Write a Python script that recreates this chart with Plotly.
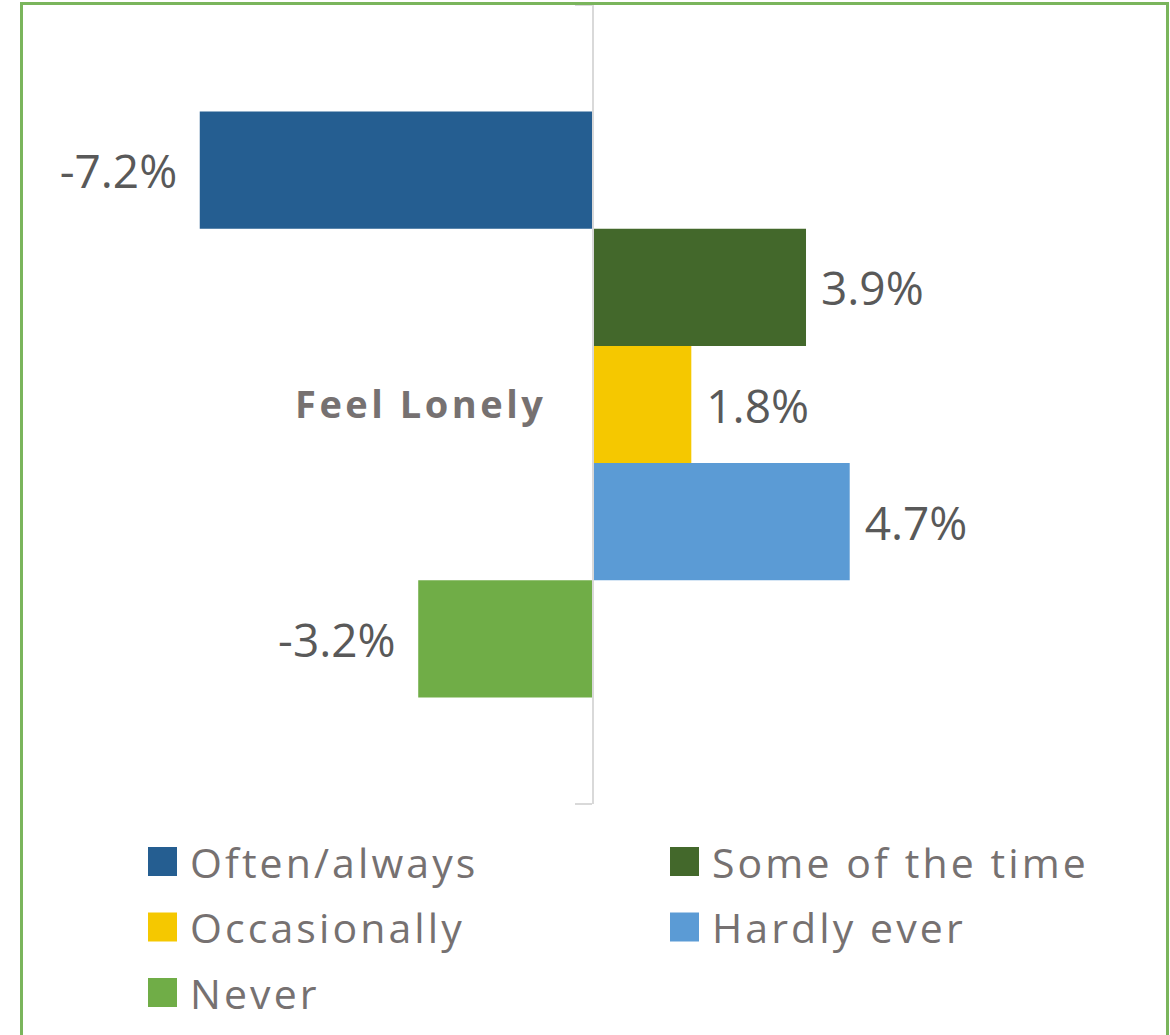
import plotly.graph_objects as go

category = ["Feel Lonely"]
series_names = ["Often/always", "Some of the time", "Occasionally", "Hardly ever", "Never"]
series_values = [-7.2, 3.9, 1.8, 4.7, -3.2]
series_colors = ["#255E91", "#43682B", "#F5C800", "#5B9BD5", "#70AD47"]

W, H = 1170, 1035
L, R, T, B = 49, 33, 5, 231
pw, ph = W - L - R, H - T - B

def px(x):
    return (x - L) / pw

def py(y):
    return (H - B - y) / ph

NB = "\u00a0"
fig = go.Figure()
for name, val, col in zip(series_names, series_values, series_colors):
    lbl = f"{val:.1f}%"
    lbl = (lbl + NB + "\u2009") if val < 0 else (NB + lbl)
    fig.add_trace(go.Bar(
        name=name, y=category, x=[val], orientation="h",
        marker=dict(color=col, line=dict(width=0)),
        text=[lbl], textposition="outside", cliponaxis=False,
        textfont=dict(family="Open Sans", size=46, color="#595959"),
        showlegend=False, hoverinfo="skip",
    ))

# manual legend (large square swatches)
legend_cols = [148, 670]
legend_rows = [861.5, 927, 992.5]
sq = 29
for i, (name, col) in enumerate(zip(series_names, series_colors)):
    cx = legend_cols[i % 2]
    cy = legend_rows[i // 2]
    fig.add_shape(type="rect", xref="paper", yref="paper",
                  x0=px(cx), x1=px(cx + sq), y0=py(cy - sq / 2), y1=py(cy + sq / 2),
                  fillcolor=col, line=dict(width=0))
    fig.add_annotation(xref="paper", yref="paper", x=px(cx + 40), y=py(cy),
                       xanchor="left", yanchor="middle",
                       text=f'<span style="letter-spacing:3.1px">{name}</span>',
                       showarrow=False,
                       font=dict(family="Open Sans", size=41, color="#767171"))

# chart border
fig.add_shape(type="rect", xref="paper", yref="paper",
              x0=px(21.5), x1=px(1167.5), y0=py(1045), y1=py(3.5),
              line=dict(color="#7AB55C", width=3), fillcolor="rgba(0,0,0,0)")

fig.update_layout(
    width=W, height=H,
    margin=dict(l=L, r=R, t=T, b=B, pad=0),
    paper_bgcolor="white", plot_bgcolor="white",
    barmode="group", bargap=0.2666, bargroupgap=0,
    showlegend=False,
    xaxis=dict(range=[-9.96, 9.96], visible=False, showgrid=False, zeroline=False, fixedrange=True),
    yaxis=dict(anchor="free", position=0.5, autorange="reversed",
               showline=True, linecolor="#D9D9D9", linewidth=2,
               ticks="outside", ticklen=17, tickcolor="#D9D9D9", tickwidth=2,
               tickson="boundaries", ticklabelstandoff=38,
               tickmode="array", tickvals=category,
               ticktext=[f'<span style="letter-spacing:3.5px">{c}</span>' for c in category],
               tickfont=dict(family="Open Sans", size=38, color="#767171", weight="bold"),
               showgrid=False, zeroline=False, fixedrange=True),
)

fig.write_html("out.html")
